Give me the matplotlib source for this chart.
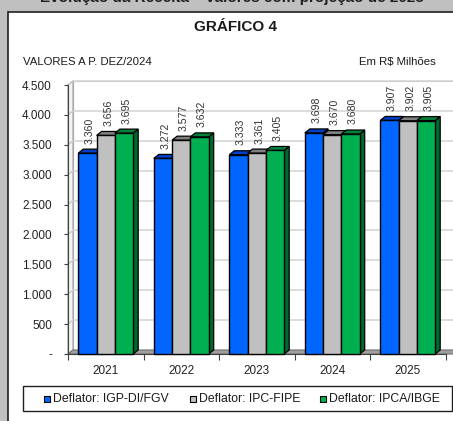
import matplotlib
matplotlib.use('Agg')
import matplotlib.pyplot as plt
from matplotlib.patches import Polygon, Rectangle

plt.rcParams['font.family'] = ['Liberation Sans', 'DejaVu Sans']

# ---------------- data ----------------
years = ['2021', '2022', '2023', '2024', '2025']
series_names = ['Deflator: IGP-DI/FGV', 'Deflator: IPC-FIPE', 'Deflator: IPCA/IBGE']
igp_di = [3360, 3272, 3333, 3698, 3907]
ipc_fipe = [3656, 3577, 3361, 3670, 3902]
ipca_ibge = [3695, 3632, 3405, 3680, 3905]
yticks = [0, 500, 1000, 1500, 2000, 2500, 3000, 3500, 4000, 4500]
ytick_labels = ['-', '500', '1.000', '1.500', '2.000', '2.500', '3.000', '3.500', '4.000', '4.500']

series = [igp_di, ipc_fipe, ipca_ibge]
front_colors = ['#0066ff', '#c0c0c0', '#00b050']
top_colors = ['#0040c8', '#808080', '#008038']
side_colors = ['#0033a0', '#6a6a6a', '#006a2e']

W, H = 453, 421
fig = plt.figure(figsize=(W / 100, H / 100), dpi=100, facecolor='#c0c0c0')

def fx(px):
    return px / W

def fy(py):
    return 1 - py / H

# white panel
fig.add_artist(Rectangle((fx(8), -0.05), 1.2, fy(12) + 0.05, transform=fig.transFigure,
                         facecolor='white', edgecolor='#202020', lw=1.2, zorder=0))

# heading of the page, mostly clipped at the very top
fig.text(fx(232), fy(2), 'Evolução da Receita – valores com projeção de 2025',
         ha='center', va='baseline', fontsize=11, fontweight='bold', color='#202020')

fig.text(fx(235), fy(27), 'GRÁFICO 4', ha='center', va='center', fontsize=11, fontweight='bold', color='#1a1a1a')
fig.text(fx(23), fy(62), 'VALORES A P. DEZ/2024', ha='left', va='center', fontsize=8.2, color='#1a1a1a')
fig.text(fx(436), fy(62), 'Em R$ Milhões', ha='right', va='center', fontsize=8.2, color='#1a1a1a')

# axes
ax_l, ax_r, ax_b, ax_t = 68, 445.5, 354, 85
ax = fig.add_axes([fx(ax_l), fy(ax_b), (ax_r - ax_l) / W, (ax_b - ax_t) / H])
ax.set_xlim(0, 5)
ax.set_ylim(0, 4500)
ax.patch.set_facecolor('none')

px_x = 5 / (ax_r - ax_l)
px_y = 4500 / (ax_b - ax_t)
dx = 5 * px_x
dy = 4 * px_y

# back wall
ax.add_patch(Polygon([(dx, dy), (5 + dx + 0.2, dy), (5 + dx + 0.2, 4500 + dy), (dx, 4500 + dy)],
                     closed=True, facecolor='white', edgecolor='#b0b0b0', lw=0.8, zorder=0.5, clip_on=False))
for v in yticks[1:]:
    ax.plot([dx, 5 + dx + 0.2], [v + dy, v + dy], color='#d6d6d6', lw=1.2, zorder=0.6, clip_on=False)
    ax.plot([0, dx], [v, v + dy], color='#c8c8c8', lw=1.0, zorder=0.6, clip_on=False)
# left wall
ax.add_patch(Polygon([(0, 0), (dx, dy), (dx, 4500 + dy), (0, 4500)], closed=True,
                     facecolor='#f4f4f4', edgecolor='#a0a0a0', lw=0.8, zorder=0.55, clip_on=False))
# floor
ax.add_patch(Polygon([(0, 0), (5 + 0.1, 0), (5 + dx + 0.1, dy), (dx, dy)], closed=True,
                     facecolor='#a0a0a0', edgecolor='#707070', lw=0.8, zorder=0.8, clip_on=False))

# bars
bw = 18.3 * px_x
for i in range(len(years)):
    start = i + (1 - 3 * bw) / 2
    for s in range(3):
        h = series[s][i]
        x0 = start + s * bw
        z = 2 + i * 0.1 + s * 0.01
        side = Polygon([(x0 + bw, 0), (x0 + bw + dx, dy), (x0 + bw + dx, h + dy), (x0 + bw, h)], closed=True,
                       facecolor=side_colors[s], edgecolor='black', lw=0.9, zorder=z, clip_on=False)
        top = Polygon([(x0, h), (x0 + dx, h + dy), (x0 + bw + dx, h + dy), (x0 + bw, h)], closed=True,
                      facecolor=top_colors[s], edgecolor='black', lw=0.9, zorder=z, clip_on=False)
        front = Rectangle((x0, 0), bw, h, facecolor=front_colors[s], edgecolor='black', lw=1.0,
                          zorder=z + 0.001, clip_on=False)
        ax.add_patch(side)
        ax.add_patch(top)
        ax.add_patch(front)
        lbl = f'{h:,}'.replace(',', '.')
        ax.annotate(lbl, (x0 + bw / 2 + dx / 2, h + dy), xytext=(0, 4), textcoords='offset points',
                    rotation=90, ha='center', va='bottom', fontsize=7.6, color='#333333', zorder=6)

# axes styling
for sp in ['top', 'right']:
    ax.spines[sp].set_visible(False)
ax.spines['left'].set_color('#404040')
ax.spines['bottom'].set_color('#404040')
ax.spines['left'].set_zorder(1)
ax.spines['bottom'].set_zorder(1)
ax.set_yticks(yticks, ytick_labels)
ax.tick_params(axis='y', length=3, color='#404040', pad=8.6, labelsize=8.5, labelcolor='#222222')
ax.set_xticks(range(6))
ax.set_xticklabels([])
ax.set_xticks([i + 0.5 for i in range(5)], minor=True)
ax.set_xticklabels(years, minor=True)
ax.tick_params(axis='x', which='major', length=4, color='#404040')
ax.tick_params(axis='x', which='minor', length=0, pad=8, labelsize=8.5, labelcolor='#222222')

# legend (manual)
fig.add_artist(Rectangle((fx(23), fy(411)), fx(452) - fx(23), fy(386) - fy(411), transform=fig.transFigure,
                         facecolor='white', edgecolor='#202020', lw=1.0, zorder=3))
leg_sq_x = [44, 190, 320]
for s in range(3):
    fig.add_artist(Rectangle((fx(leg_sq_x[s]), fy(402)), fx(6), 6 / H, transform=fig.transFigure,
                             facecolor=front_colors[s], edgecolor='black', lw=0.8, zorder=4))
    fig.text(fx(leg_sq_x[s] + 9), fy(399), series_names[s], ha='left', va='center', fontsize=8.8,
             color='#1a1a1a', zorder=4)

fig.savefig('out.png', dpi=100, facecolor=fig.get_facecolor())
